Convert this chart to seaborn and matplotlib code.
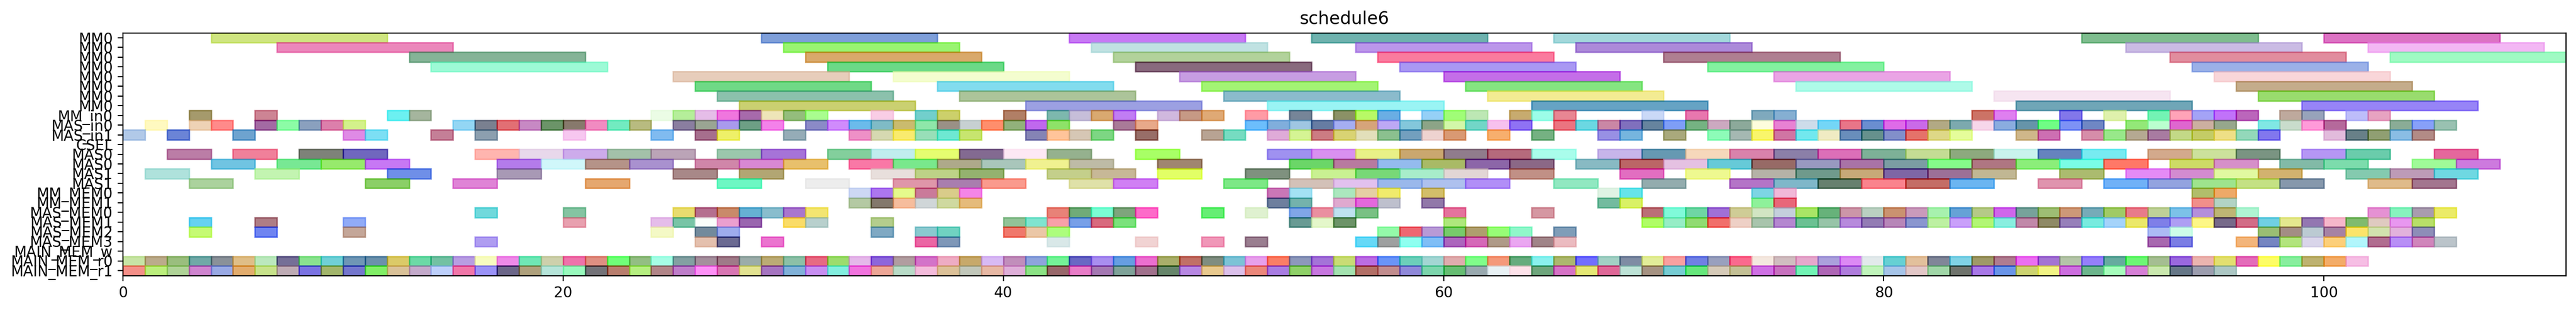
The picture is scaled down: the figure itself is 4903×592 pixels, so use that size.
import numpy as np
import matplotlib
matplotlib.use("Agg")
import matplotlib.pyplot as plt
from matplotlib.colors import to_rgb
import seaborn as sns

row_labels = ["MM0", "MM0", "MM0", "MM0", "MM0", "MM0", "MM0", "MM0", "MM_in0", "MAS_in0", "MAS_in1", "CSEL",
              "MAS0", "MAS0", "MAS1", "MAS1", "MM_MEM0", "MM_MEM1", "MAS_MEM0", "MAS_MEM1", "MAS_MEM2", "MAS_MEM3",
              "MAIN_MEM_w", "MAIN_MEM_r0", "MAIN_MEM_r1"]
row_durations = [8, 8, 8, 8, 8, 8, 8, 8, 1, 1, 1, 1, 2, 2, 2, 2, 1, 1, 1, 1, 1, 1, 1, 1, 1]

# bar starts and the colours as they look on white
starts_00 = [4, 29, 43, 54, 65, 89, 100]
colors_00 = ["#cfe681", "#7f9fd9", "#c77af5", "#6fb3ae", "#a3d8db", "#7fbd8f", "#dd73c3"]
starts_01 = [7, 30, 44, 56, 66, 91, 102]
colors_01 = ["#ec87bb", "#99f571", "#c0e2e3", "#bc96ea", "#ad8ad9", "#cabbe4", "#f3b7f4"]
starts_02 = [13, 31, 45, 57, 70, 93, 103]
colors_02 = ["#85b497", "#d9a96b", "#b3d29b", "#fb7b9e", "#b07f91", "#e18d9e", "#9ffac3"]
starts_03 = [14, 32, 46, 58, 72, 94]
colors_03 = ["#9dfbd7", "#6bd987", "#896a7e", "#aa98f3", "#83f2a0", "#9bb1e8"]
starts_04 = [25, 35, 48, 60, 75, 95]
colors_04 = ["#e7cdbc", "#f5fdcf", "#c89de2", "#c46ee8", "#eaa4e6", "#f9d7d9"]
starts_05 = [26, 37, 49, 61, 76, 96]
colors_05 = ["#6fd986", "#82dcef", "#a3f474", "#85e681", "#aefbe9", "#c5ac8b"]
starts_06 = [27, 38, 50, 62, 85, 97]
colors_06 = ["#8cc2ac", "#adc49a", "#8bbccc", "#f3ec93", "#f6e6f1", "#99dc6e"]
starts_07 = [28, 41, 52, 64, 86, 99]
colors_07 = ["#cbd071", "#9ca0e2", "#9af5f4", "#65a3c4", "#70a6b7", "#9784f7"]

starts_08 = [3, 6, 12, 13, 24, 25, 26, 27, 28, 29, 30, 31, 34, 36, 37, 40, 42, 43, 44, 45, 47, 48, 49, 51, 53, 55, 56,
             57, 59, 60, 61, 63, 64, 65, 69, 71, 74, 75, 84, 85, 88, 90, 92, 93, 94, 95, 96, 98, 99, 101, 102]
colors_08 = ["#a59a6c", "#cd8494", "#6cf0f2", "#a5b69e", "#ecfce6", "#b6ef9a", "#e6bde9", "#f076de", "#a76aab",
             "#efe5b9", "#94bd7c", "#aafe8f", "#f9cde5", "#72cfcc", "#ccd06b", "#b17f63", "#7db8ae", "#c6bfd9",
             "#d9a970", "#c27df5", "#d0b9de", "#c69985", "#dfaa75", "#ff9ba5", "#768598", "#8b9164", "#b9f960",
             "#6aaee4", "#95d0f7", "#a0fd77", "#bde7b4", "#c7ab6f", "#9cfde8", "#e98693", "#cbd9f7", "#e877ae",
             "#7fa9bd", "#85b0d2", "#cc7363", "#df7ff0", "#8277ea", "#dff2ad", "#73f3b4", "#ffa3b9", "#a4a3f6",
             "#c272fb", "#bc66bb", "#bfa99d", "#97a3ba", "#bdbdfb", "#e7a3c2"]

starts_09 = [1, 3, 4, 6, 7, 8, 9, 10, 15, 16, 17, 18, 19, 20, 21, 22, 23, 25, 26, 27, 28, 29, 31, 32, 33, 34, 35, 36,
             37, 38, 39, 40, 41, 42, 45, 46, 51, 52, 53, 54, 55, 56, 57, 58, 59, 60, 61, 62, 63, 65, 66, 67, 68, 69,
             70, 71, 72, 73, 74, 75, 76, 77, 78, 79, 80, 81, 82, 83, 84, 85, 86, 87, 88, 89, 91, 92, 93, 94, 95, 97,
             98, 99, 100, 103, 104, 105]
colors_09 = ["#fff9c0", "#eed2b5", "#ff8a8a", "#a36aa3", "#8cfca6", "#8aa0bf", "#dd7fab", "#d3f28b", "#93d6f5",
             "#7a8090", "#e36f74", "#c789c4", "#6b9468", "#87796c", "#f28bc1", "#72ecc0", "#b8bb80", "#8a7ea0",
             "#9aa593", "#aa9aed", "#6d9f85", "#f581ea", "#8b8ac8", "#d08bfc", "#6bbcec", "#7fbcc6", "#cbbb6e",
             "#8ee7a9", "#9a9086", "#c8d0d2", "#ff8e6c", "#92b17b", "#c068ef", "#8ee268", "#aa7a98", "#e8a98a",
             "#6cbffc", "#80aedc", "#9fc6e2", "#667ca3", "#a5aef2", "#d6a47a", "#bda8f5", "#83c7db", "#8ca487",
             "#d2f7a8", "#72d7c8", "#f7c1ef", "#8f72f5", "#ec7480", "#6bd8e2", "#cb87a5", "#8070bd", "#65849e",
             "#7e9ef7", "#75b282", "#cca9c0", "#8caa9a", "#fdfedd", "#e981d4", "#cedcea", "#74d6f7", "#e87588",
             "#6a8ed0", "#e06be8", "#ca6ae8", "#b3aa84", "#7ca9ae", "#f7d6ea", "#8aacdf", "#6494a9", "#70fd85",
             "#7d92f6", "#6f87c4", "#93e878", "#baffcf", "#e05fcf", "#ccafa0", "#96a78c", "#80e8e4", "#c9dccc",
             "#ff9ad9", "#b5699b", "#8aad96", "#87a0f9", "#99c2b1"]

starts_10 = [0, 2, 5, 10, 11, 14, 16, 20, 24, 26, 27, 30, 33, 34, 35, 36, 37, 38, 41, 42, 43, 44, 46, 49, 50, 52, 53,
             54, 55, 56, 57, 58, 59, 60, 62, 64, 67, 68, 70, 72, 73, 74, 75, 76, 77, 78, 79, 80, 81, 82, 83, 86, 87,
             89, 90, 91, 92, 93, 94, 95, 96, 97, 100, 101, 102, 103, 104]
colors_10 = ["#b1c9e8", "#6b84d6", "#6ea3cf", "#e08ae6", "#7ce0f5", "#c47f97", "#8c9fb0", "#f8c8f0", "#80bcf0",
             "#a66f8d", "#eef068", "#95adb7", "#ef90c7", "#d6dab1", "#f9ec6e", "#98e0b9", "#6ee9d2", "#c7e66f",
             "#8584b6", "#ffc59a", "#d6c7b5", "#7dd783", "#986e68", "#b9a393", "#76dcc2", "#dfabd8", "#d5f594",
             "#cc7c83", "#dad373", "#e3dfba", "#8bc08f", "#739fbe", "#eed3d1", "#d99973", "#f8b06e", "#75b182",
             "#9890e4", "#76b5de", "#a9aa7c", "#8dfcb9", "#a5b9b3", "#f9f66b", "#d075a3", "#72e8ef", "#f0ecc3",
             "#698ebb", "#65918d", "#828fca", "#e6726a", "#ded887", "#e6fd9a", "#cfb78a", "#cd6fb3", "#d68daa",
             "#98e98a", "#b6a992", "#a87ba1", "#c3d987", "#c5cc66", "#eedf86", "#93d8ba", "#8277ef", "#e3bbdd",
             "#688088", "#909f72", "#8abde4", "#b38b86"]

starts_11 = []
colors_11 = []

starts_12 = [2, 5, 8, 10, 16, 18, 20, 22, 24, 27, 29, 32, 34, 36, 38, 40, 42, 46, 52, 54, 56, 58, 60, 62, 64, 67, 69,
             71, 73, 75, 77, 79, 81, 83, 85, 87, 89, 92, 94, 96, 99, 101, 105]
colors_12 = ["#bb7da6", "#f0809a", "#7e8279", "#7067bf", "#ffb5af", "#e9d8ec", "#ceabec", "#a3c1a9", "#bca4b7",
             "#9bc7ac", "#a673d8", "#83cf9c", "#c0edef", "#e6fe70", "#836a91", "#fde9f5", "#95b18e", "#a8ff63",
             "#9f91f0", "#da90f0", "#e8f187", "#caa76f", "#907c8c", "#b56a7c", "#a9fdec", "#c8b5ea", "#6599b2",
             "#f6d8bb", "#da82ab", "#8b7fa8", "#dc6fb8", "#7db197", "#c5dd94", "#8daa7e", "#c9f3ed", "#6683bd",
             "#77ecf2", "#d3aa8c", "#cce19c", "#7a9482", "#b596f5", "#6accab", "#e6679c"]

starts_13 = [4, 7, 9, 11, 17, 19, 21, 23, 26, 28, 30, 33, 35, 37, 39, 41, 43, 47, 53, 55, 57, 59, 61, 63, 66, 68, 70,
             72, 74, 76, 78, 80, 82, 84, 86, 88, 90, 93, 95, 98, 100, 104, 106]
colors_13 = ["#70c4e2", "#78e994", "#97ea6c", "#c878f5", "#b47bec", "#d0f7fb", "#b59388", "#aa91cf", "#d186aa",
             "#d888d3", "#e8c06c", "#f978a6", "#79e98c", "#aea98a", "#a9c6bc", "#f0f290", "#bfbca6", "#a08570",
             "#6bd768", "#b87a9f", "#94bcee", "#a9ba66", "#8c63a8", "#8b6886", "#88bac3", "#bc6466", "#e5c1e3",
             "#64cbd8", "#976a66", "#9899c0", "#aa73a6", "#7b9da3", "#85fb8a", "#b07682", "#8bef7a", "#7afde6",
             "#ff7867", "#cedb62", "#d78fc9", "#82baa7", "#7cddac", "#9ffb98", "#cd7ade"]

starts_14 = [1, 6, 12, 17, 25, 28, 34, 36, 38, 42, 44, 47, 51, 54, 56, 58, 60, 63, 68, 71, 74, 76, 78, 80, 82, 84, 88,
             91, 93, 95, 97, 101, 103, 105]
colors_14 = ["#b0e2dc", "#c3f5b1", "#6f8fe8", "#a899b5", "#a88888", "#b2a673", "#e9e0dd", "#bdd287", "#94b26f",
             "#c4cf8b", "#c7b897", "#e3ff63", "#7f917f", "#c9f292", "#78d877", "#a8edcb", "#e2d6d5", "#c29086",
             "#e36ec2", "#eff990", "#b6b3a7", "#6f9a8c", "#c7aa78", "#7e63a5", "#9c7097", "#c2b793", "#abbb6f",
             "#e68bf6", "#d48bd1", "#e1f9a0", "#d2b36f", "#84cbaf", "#bd9bb7", "#6fd8e2"]

starts_15 = [3, 11, 15, 21, 27, 31, 35, 37, 39, 43, 45, 50, 53, 55, 57, 59, 61, 65, 69, 73, 75, 77, 79, 81, 83, 87, 90,
             92, 94, 96, 98, 102, 104]
colors_15 = ["#abd29d", "#8bcf67", "#e083d6", "#e6a76f", "#6df7c3", "#ededed", "#e096aa", "#a97eae", "#fb9a8d",
             "#e0e1a8", "#d07ff4", "#7de886", "#d4c1b8", "#e3c2ee", "#9ab8ec", "#aec1ee", "#b18ef7", "#91e8c2",
             "#93acae", "#b474c8", "#7fb7c9", "#67806f", "#fa838d", "#c46d65", "#6bb5f1", "#e094ae", "#70b1f8",
             "#93a3e0", "#9ee48d", "#c4e184", "#8698ac", "#dfbc8a", "#a3768f"]

starts_16 = [33, 34, 35, 36, 37, 38, 52, 53, 55, 56, 57, 59, 67, 68, 74, 75, 94, 95]
colors_16 = ["#cdd8f4", "#ac76ef", "#e6fb8c", "#ca7a9a", "#d9cc8a", "#f585e9", "#cb77b7", "#a4e3f4", "#abe7bf",
             "#e6cfa4", "#f0ec6c", "#d3bf6a", "#e0f3e4", "#66e4ea", "#7dd5e4", "#f2b9d8", "#b1bd6b", "#eeaa68"]
starts_17 = [33, 34, 35, 36, 37, 38, 52, 53, 55, 56, 57, 59, 67, 68, 74, 75, 94, 95]
colors_17 = ["#b4c9a3", "#83786b", "#f6bd9d", "#d1d6d8", "#cfdaa0", "#e5bb7b", "#6e7f9e", "#74b3ac", "#dfa9cf",
             "#e468dc", "#bfc0ce", "#9178a9", "#73bc9f", "#d9f263", "#8ef29a", "#e96779", "#f28f8a", "#b3d4c4"]

starts_18 = [16, 20, 25, 26, 27, 28, 29, 30, 31, 42, 43, 44, 45, 46, 49, 51, 53, 54, 55, 56, 60, 64, 69, 70, 71, 72,
             73, 74, 75, 76, 77, 78, 79, 80, 81, 82, 83, 84, 85, 86, 87, 88, 89, 90, 91, 92, 93, 94, 95, 96, 102, 103,
             104, 105]
colors_18 = ["#70d9dd", "#85c4a2", "#e9dc6f", "#b66f8f", "#c98a6a", "#66b1d4", "#89bdce", "#a976ce", "#f3e671",
             "#e88278", "#70ab78", "#7bfdd3", "#7ea57c", "#fe6bc9", "#66ee74", "#e0f2d0", "#80a6e9", "#ea8fa0",
             "#bee2f0", "#79c284", "#e4739d", "#d597a2", "#bc7077", "#80fad9", "#6fd7a4", "#a070d6", "#cfcc96",
             "#d2e5c3", "#c5cfdc", "#aae566", "#67b27a", "#cc96a8", "#bad1c2", "#cb9270", "#c99abc", "#a7f2ae",
             "#66a2d7", "#b6ca87", "#cf64ec", "#77a29b", "#9ebe74", "#cd9878", "#76abb8", "#a0ca66", "#e97b8a",
             "#bfd098", "#7cc2e9", "#b48fdb", "#beb674", "#aff4d2", "#e691d3", "#87f3bf", "#a99cb0", "#ebeb68"]

starts_19 = [3, 6, 10, 20, 24, 25, 26, 27, 28, 30, 31, 34, 40, 41, 42, 43, 44, 45, 53, 54, 55, 60, 69, 70, 71, 72, 73,
             74, 75, 76, 77, 78, 79, 80, 81, 82, 83, 84, 85, 86, 87, 88, 89, 90, 91, 92, 93, 94, 95, 96, 97, 98, 99,
             100, 101, 102, 103, 104]
colors_19 = ["#66d2f2", "#ae7d85", "#91abf8", "#e8a0b0", "#e6bdea", "#78c4a6", "#f9fdfa", "#ec9fcf", "#9a66b0",
             "#fbdd68", "#b8d1ce", "#b4cd8d", "#92c397", "#80e4cf", "#f8a0a8", "#78a0e8", "#d86a7e", "#7be27c",
             "#699b94", "#e4f7cb", "#6c9468", "#aee97c", "#affe62", "#96edc6", "#91db72", "#f26f6b", "#efd0c6",
             "#a8c5ac", "#b487d1", "#6bc293", "#97c4a8", "#b78add", "#937cb4", "#b786b8", "#8a96cf", "#bdf0a2",
             "#c9a0fb", "#b2f674", "#88eee0", "#c288a9", "#8f8a63", "#9780ba", "#78ebdf", "#a4d3fb", "#ece86a",
             "#7f7fe8", "#ae9ef3", "#fdf887", "#776a8a", "#d26c87", "#70d0e2", "#e4e88e", "#9377b1", "#f6b7cb",
             "#80bc6e", "#dfcbc0", "#e897f0", "#b8e069"]

starts_20 = [3, 6, 10, 24, 26, 27, 34, 36, 37, 40, 41, 42, 57, 58, 59, 60, 61, 62, 63, 65, 92, 93, 97, 98, 99, 100,
             101, 102, 103, 104]
colors_20 = ["#c6fb74", "#6f84f2", "#c5a698", "#f4f9c6", "#738a9c", "#9eaded", "#7fa9c3", "#8ac9cf", "#70d2c2",
             "#f0786c", "#ebc7a6", "#acfd7c", "#94fba9", "#ef6771", "#b89ad6", "#77cb6b", "#b09e6e", "#97fd76",
             "#90f7ca", "#7f9db8", "#adbcf5", "#cdfde9", "#9abe73", "#a38d84", "#bccad2", "#a682a4", "#fce46a",
             "#d2e2ae", "#e3b2dd", "#8e8db8"]

starts_21 = [16, 26, 27, 29, 36, 37, 42, 46, 49, 51, 56, 57, 58, 59, 60, 61, 62, 63, 64, 65, 92, 93, 96, 97, 98, 99,
             100, 101, 102, 103, 104, 105]
colors_21 = ["#b09df2", "#e4c0ae", "#6b6a92", "#ec74cf", "#ec65a4", "#7e97b8", "#d9e8e9", "#f2d3d3", "#f097b8",
             "#9a7e90", "#66daf8", "#9ea0a0", "#8ffff0", "#7fbef6", "#ad66bd", "#d568b9", "#af9a88", "#eaa7f1",
             "#a08488", "#ebbcc0", "#a868b0", "#7b7de4", "#f3b67b", "#7585c2", "#b3e47d", "#dad5ea", "#fccf7a",
             "#b3f6fc", "#b16d90", "#b98ff6", "#d085bc", "#bcc4ca"]

starts_22 = []
colors_22 = []

starts_23 = [0, 1, 2, 3, 4, 5, 6, 7, 8, 9, 10, 11, 12, 13, 14, 15, 16, 17, 18, 19, 20, 21, 22, 23, 24, 25, 26, 27, 28,
             29, 30, 31, 32, 33, 34, 35, 36, 37, 38, 39, 40, 41, 42, 43, 44, 45, 46, 47, 48, 49, 50, 51, 52, 53, 54,
             55, 56, 57, 58, 59, 60, 61, 62, 63, 64, 65, 66, 67, 68, 69, 70, 71, 72, 73, 74, 75, 76, 77, 78, 79, 80,
             81, 82, 83, 84, 85, 86, 87, 88, 89, 90, 91, 92, 93, 94, 95, 96, 97, 98, 99, 100, 101]
colors_23 = ["#c7e4a5", "#bcab8b", "#9abe7e", "#70a9a7", "#8a9199", "#dfbf87", "#bce9bd", "#756f97", "#8ae28f",
             "#70d0d6", "#6f96b5", "#6b91ad", "#dbca68", "#6cd9a6", "#73c2a3", "#b89de2", "#f7fcc0", "#ef8ae8",
             "#6fe7b6", "#ced1ad", "#ef73ab", "#e08f82", "#70ff78", "#93bf83", "#a6fee6", "#83a0a2", "#a58f9d",
             "#9f7a88", "#9bada9", "#bcab75", "#8cc0a7", "#e76a83", "#9cdc6d", "#e6b9ea", "#8d66db", "#b19da0",
             "#d473c9", "#eeacc3", "#c8aa6b", "#d8baf5", "#c18ebb", "#8ea4dd", "#74f397", "#6a68c5", "#aa8ef0",
             "#659ee3", "#ec6fcf", "#a9ae6a", "#c27066", "#7f8d80", "#7cc3d6", "#e7a0eb", "#fb7e60", "#8d98bb",
             "#a473d8", "#c9dd75", "#bc6de2", "#6a94f8", "#6ccfba", "#a3d6d3", "#e0acae", "#80fd8a", "#f5997a",
             "#62ad7e", "#8af1ee", "#adb76e", "#726ffd", "#a2d0c4", "#7f8ca4", "#e3ed99", "#f9a0a0", "#7080e4",
             "#99a0bf", "#fa6a8e", "#f5e8e0", "#d1bdc0", "#e6a8cc", "#aba0dc", "#dd89f4", "#e2eaec", "#63d0d4",
             "#e2c09c", "#808698", "#80d2e6", "#9f9968", "#b07c90", "#eb6ff0", "#a474d4", "#b4c4a8", "#957ffa",
             "#65ab9f", "#6cf674", "#a5bf92", "#9a68de", "#ecb4b0", "#e3e070", "#e46cba", "#fdfe66", "#88ef9e",
             "#beb270", "#f3ad68", "#f6bfe4"]

starts_24 = [0, 1, 2, 3, 4, 5, 6, 7, 8, 9, 10, 11, 12, 13, 14, 15, 16, 17, 18, 19, 20, 21, 22, 23, 24, 25, 26, 27, 28,
             29, 30, 31, 32, 33, 34, 35, 36, 37, 38, 39, 40, 41, 42, 43, 44, 45, 46, 47, 48, 49, 50, 51, 52, 53, 54,
             55, 56, 57, 58, 59, 60, 61, 62, 63, 64, 65, 66, 67, 68, 69, 70, 71, 72, 73, 74, 75, 76, 77, 78, 79, 80,
             81, 82, 83, 84, 85, 86, 87, 88, 89, 90, 91, 92, 93, 94, 95]
colors_24 = ["#f48f88", "#bcef7c", "#afd397", "#cf84cf", "#99a9e4", "#e3ac6d", "#c8e38a", "#bfabb4", "#7a72e2",
             "#a2b56b", "#7476cd", "#80ef65", "#dac298", "#c3aaca", "#bdcffa", "#f076a8", "#9a92f8", "#6b6688",
             "#aea07c", "#b5e4da", "#98f9bd", "#737278", "#b87d6d", "#b5ee80", "#b18588", "#be7dc9", "#fe90f6",
             "#d875b3", "#e2e391", "#a574c0", "#80b1d8", "#c78ef2", "#82efdf", "#f173de", "#eda696", "#b9dbc8",
             "#f3bcdb", "#dcc298", "#c2c7ba", "#e7b8a4", "#deaed8", "#8be384", "#98676a", "#e87cc7", "#a478b2",
             "#7ea298", "#a0718c", "#65856a", "#b787e2", "#e8c98e", "#dbc0ea", "#eb877a", "#a87ce2", "#8ed067",
             "#c776e0", "#a3e2b0", "#b26f63", "#c18c8d", "#8f88d9", "#7cd5ac", "#65bd72", "#99aab0", "#e8f1f5",
             "#fde2ea", "#6ea57c", "#d672c6", "#e5e874", "#df6797", "#bde2d6", "#a59282", "#76ccd4", "#66e77b",
             "#d5cab9", "#c3c095", "#cf70e4", "#c871bf", "#71f3b4", "#ae64b6", "#b07cdc", "#c0f4bb", "#a6c4e8",
             "#e3c8c8", "#a0d7a7", "#6f736c", "#a878e7", "#6994e9", "#ccd470", "#f1f384", "#ce6de0", "#6cb58c",
             "#a5fcbc", "#d77fd7", "#cbe8ae", "#637787", "#9c9dae", "#acc7c5"]

row_starts = [starts_00, starts_01, starts_02, starts_03, starts_04, starts_05, starts_06, starts_07, starts_08,
              starts_09, starts_10, starts_11, starts_12, starts_13, starts_14, starts_15, starts_16, starts_17,
              starts_18, starts_19, starts_20, starts_21, starts_22, starts_23, starts_24]
row_colors = [colors_00, colors_01, colors_02, colors_03, colors_04, colors_05, colors_06, colors_07, colors_08,
              colors_09, colors_10, colors_11, colors_12, colors_13, colors_14, colors_15, colors_16, colors_17,
              colors_18, colors_19, colors_20, colors_21, colors_22, colors_23, colors_24]

ALPHA = 0.6


def base_color(seen):
    # the listed colour is what shows on white, get back the colour before alpha
    rgb = (np.array(to_rgb(seen)) - (1 - ALPHA)) / ALPHA
    return tuple(np.clip(rgb, 0, 1))


sns.set_style("ticks", rc={"axes.edgecolor": "black", "xtick.color": "black", "ytick.color": "black",
                           "text.color": "black", "axes.labelcolor": "black"})
plt.rcParams["font.family"] = ["DejaVu Sans"]

fig = plt.figure(figsize=(24.515, 2.96), dpi=200)
ax = fig.add_axes([234 / 4903, 67.5 / 592, 4650 / 4903, 462 / 592])

for row, (starts, colors, duration) in enumerate(zip(row_starts, row_colors, row_durations, strict=True)):
    for start, seen in zip(starts, colors, strict=True):
        c = base_color(seen)
        sns.barplot(x=[duration], y=[row], left=start, orient="y", native_scale=True, color=c, saturation=1,
                    alpha=ALPHA, edgecolor=c, linewidth=1, width=1, errorbar=None, ax=ax)

ax.set_xlim(0, 111)
ax.set_ylim(24.5, -0.5)
ax.set_xticks(range(0, 101, 20))
ax.set_yticks(range(len(row_labels)))
ax.set_yticklabels(row_labels)
ax.set_xlabel("")
ax.set_ylabel("")
ax.set_title("schedule6", fontsize=12)

fig.savefig("out.png", dpi=200)
